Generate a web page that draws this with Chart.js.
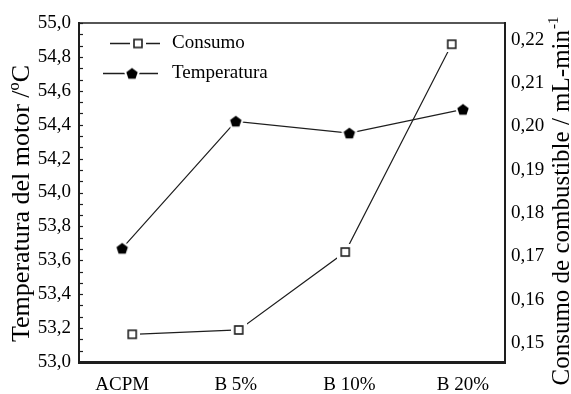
<!DOCTYPE html>
<html>
<head>
<meta charset="utf-8">
<script src="https://cdn.jsdelivr.net/npm/chart.js@4.4.0/dist/chart.umd.min.js"></script>
<style>
  html, body { margin: 0; padding: 0; background: #fff; }
  #wrap { width: 571px; height: 394px; }
</style>
</head>
<body>
<div id="wrap"><canvas id="chart" width="571" height="394"></canvas></div>
<script>
const categories = ['ACPM', 'B 5%', 'B 10%', 'B 20%'];
const temperatura = [53.67, 54.42, 54.35, 54.49];
const consumo = [0.152, 0.153, 0.171, 0.219];

const tempTicks = [53.0, 53.2, 53.4, 53.6, 53.8, 54.0, 54.2, 54.4, 54.6, 54.8, 55.0];
const consumoTicks = [0.15, 0.16, 0.17, 0.18, 0.19, 0.20, 0.21, 0.22];

const tempTitle = 'Temperatura del motor /ºC';
const consumoTitle = 'Consumo de combustible / mL-min';
const consumoTitleSup = '-1';

const serif = '"Liberation Serif", "Times New Roman", serif';
const ink = '#1e1e1e';

// open square marker, with a white margin so the line stops short of it
function squareMarker() {
  const c = document.createElement('canvas');
  c.width = 16; c.height = 16;
  const g = c.getContext('2d');
  g.fillStyle = '#fff';
  g.fillRect(0, 0, 16, 16);
  g.strokeStyle = ink;
  g.lineWidth = 1.6;
  g.strokeRect(4, 4, 8, 8);
  return c;
}

// filled pentagon marker, same white margin
function pentagonMarker() {
  const c = document.createElement('canvas');
  c.width = 18; c.height = 18;
  const g = c.getContext('2d');
  const poly = (r, color) => {
    g.beginPath();
    for (let i = 0; i < 5; i++) {
      const a = -Math.PI / 2 + i * 2 * Math.PI / 5;
      const px = 9 + r * Math.cos(a), py = 9.5 + r * Math.sin(a);
      i ? g.lineTo(px, py) : g.moveTo(px, py);
    }
    g.closePath();
    g.fillStyle = color;
    g.fill();
  };
  poly(8.5, '#fff');
  poly(6, '#000');
  return c;
}

const sq = squareMarker();
const pent = pentagonMarker();

const frame = {
  id: 'frame',
  afterDraw(chart) {
    const { ctx, chartArea: a, scales } = chart;
    ctx.save();
    ctx.strokeStyle = ink;
    // top edge of the box
    ctx.lineWidth = 1.5;
    ctx.beginPath();
    ctx.moveTo(a.left, a.top);
    ctx.lineTo(a.right, a.top);
    ctx.stroke();
    // inward ticks on the temperature axis, three per major step
    ctx.lineWidth = 1.2;
    const y = scales.y;
    for (let k = 0; k <= 30; k++) {
      const py = Math.round(y.getPixelForValue(53 + k * 0.2 / 3)) + 0.5;
      ctx.beginPath();
      ctx.moveTo(a.left, py);
      ctx.lineTo(a.left + 4, py);
      ctx.stroke();
    }
    // legend
    const items = [
      { label: 'Consumo', img: sq, x0: 31, x1: 81, mx: 59, dy: 20 },
      { label: 'Temperatura', img: pent, x0: 24, x1: 79, mx: 53, dy: 50 }
    ];
    ctx.font = '19px ' + serif;
    ctx.fillStyle = '#000';
    ctx.textBaseline = 'middle';
    items.forEach(it => {
      const ly = a.top + it.dy + 0.5;
      ctx.lineWidth = 1.3;
      ctx.beginPath();
      ctx.moveTo(a.left + it.x0, ly);
      ctx.lineTo(a.left + it.x1, ly);
      ctx.stroke();
      ctx.drawImage(it.img, a.left + it.mx - it.img.width / 2, ly - it.img.height / 2);
      ctx.fillText(it.label, a.left + 93, ly);
    });

    // axis titles, both reading bottom to top
    const cy = (a.top + a.bottom) / 2 + 11;
    ctx.textBaseline = 'alphabetic';
    ctx.textAlign = 'center';
    ctx.font = '26px ' + serif;
    ctx.save();
    ctx.translate(29, cy);
    ctx.rotate(-Math.PI / 2);
    ctx.fillText(tempTitle, 0, 0);
    ctx.restore();

    ctx.save();
    ctx.translate(569, cy - 2);
    ctx.rotate(-Math.PI / 2);
    ctx.font = '25px ' + serif;
    const w = ctx.measureText(consumoTitle).width;
    ctx.font = '15px ' + serif;
    const ws = ctx.measureText(consumoTitleSup).width;
    const x0 = -(w + ws) / 2;
    ctx.textAlign = 'left';
    ctx.font = '25px ' + serif;
    ctx.fillText(consumoTitle, x0, 0);
    ctx.font = '15px ' + serif;
    ctx.fillText(consumoTitleSup, x0 + w + 1, -11);
    ctx.restore();

    ctx.restore();
  }
};

new Chart(document.getElementById('chart'), {
  type: 'line',
  data: {
    datasets: [
      {
        label: 'Consumo',
        data: consumo,
        xAxisID: 'x2',
        yAxisID: 'y1',
        borderColor: ink,
        borderWidth: 1.2,
        pointStyle: sq,
        tension: 0
      },
      {
        label: 'Temperatura',
        data: temperatura.map((v, i) => ({ x: i, y: v })),
        xAxisID: 'x',
        yAxisID: 'y',
        borderColor: ink,
        borderWidth: 1.2,
        pointStyle: pent,
        tension: 0
      }
    ]
  },
  options: {
    responsive: false,
    animation: false,
    layout: { padding: { top: 23 } },
    plugins: { legend: { display: false }, tooltip: { enabled: false } },
    scales: {
      x: {
        type: 'linear',
        position: 'bottom',
        min: -0.38,
        max: 3.37,
        afterFit: s => { s.height = 32; },
        afterBuildTicks: s => { s.ticks = categories.map((c, i) => ({ value: i })); },
        grid: { drawOnChartArea: false, drawTicks: false },
        border: { display: true, width: 3, color: ink },
        ticks: {
          padding: 12,
          color: '#000',
          font: { family: serif, size: 19 },
          callback: v => categories[v]
        }
      },
      x2: {
        type: 'category',
        labels: categories,
        offset: true,
        display: false
      },
      y: {
        position: 'left',
        min: 53,
        max: 55,
        afterFit: s => { s.width = 79; },
        afterBuildTicks: s => { s.ticks = tempTicks.map(v => ({ value: v })); },
        grid: { drawOnChartArea: false, drawTicks: false },
        border: { display: true, width: 2, color: ink },
        ticks: {
          padding: 8,
          color: '#000',
          font: { family: serif, size: 19 },
          callback: v => v.toFixed(1).replace('.', ',')
        }
      },
      y1: {
        position: 'right',
        min: 0.1456,
        max: 0.2239,
        afterFit: s => { s.width = 66; },
        afterBuildTicks: s => { s.ticks = consumoTicks.map(v => ({ value: v })); },
        grid: { drawOnChartArea: false, drawTicks: false },
        border: { display: true, width: 2, color: ink },
        ticks: {
          padding: 6,
          color: '#000',
          font: { family: serif, size: 19 },
          callback: v => v.toFixed(2).replace('.', ',')
        }
      }
    }
  },
  plugins: [frame]
});
</script>
</body>
</html>
